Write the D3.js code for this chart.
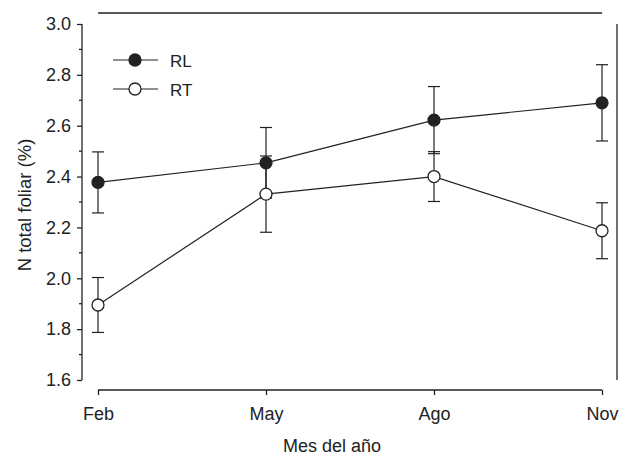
<!DOCTYPE html>
<html>
<head>
<meta charset="utf-8">
<script src="https://cdn.jsdelivr.net/npm/d3@7"></script>
<style>
  body { margin: 0; background: #fff; }
  text { font-family: "Liberation Sans", Arial, sans-serif; fill: #222; }
</style>
</head>
<body>
<div id="chart"></div>
<script>
var months = ["Feb", "May", "Ago", "Nov"];
var rlMean = [2.377, 2.454, 2.622, 2.69];
var rlErr  = [0.12, 0.139, 0.132, 0.15];
var rtMean = [1.895, 2.331, 2.40, 2.187];
var rtErr  = [0.108, 0.15, 0.098, 0.11];
var yTicks = [1.6, 1.8, 2.0, 2.2, 2.4, 2.6, 2.8, 3.0];

var W = 626, H = 456;
var svg = d3.select("#chart").append("svg")
  .attr("width", W).attr("height", H);

var x = d3.scalePoint().domain(months).range([98, 602]);
var y = d3.scaleLinear().domain([1.6, 3.0]).range([380, 24]);

var ink = "#222";

// left axis (offset), major + minor ticks
var yAxis = d3.axisLeft(y).tickValues(yTicks).tickFormat(d3.format(".1f"))
  .tickSize(5).tickPadding(6);
var gy = svg.append("g").attr("transform", "translate(82,0)").call(yAxis);
gy.select(".domain").attr("stroke", ink).attr("stroke-width", 1.3).attr("d", "M0," + y(1.6) + "V" + y(3.0));
gy.selectAll(".tick line").attr("stroke", ink).attr("stroke-width", 1.3);
gy.selectAll(".tick text").style("font-size", "18px").attr("fill", ink);
var minor = d3.range(1.7, 3.0, 0.2);
gy.selectAll(".minor").data(minor).enter().append("line")
  .attr("x1", -3).attr("x2", 0)
  .attr("y1", function(d) { return y(d); }).attr("y2", function(d) { return y(d); })
  .attr("stroke", ink).attr("stroke-width", 1.3);

// bottom axis (offset)
var xAxis = d3.axisBottom(x).tickSize(5).tickPadding(12);
var gx = svg.append("g").attr("transform", "translate(0,390)").call(xAxis);
gx.select(".domain").attr("stroke", ink).attr("stroke-width", 1.3).attr("d", "M98,0H602");
gx.selectAll(".tick line").attr("stroke", ink).attr("stroke-width", 1.3);
gx.selectAll(".tick text").style("font-size", "18px").attr("fill", ink);

// top and right frame lines
svg.append("line").attr("x1", 98).attr("x2", 602).attr("y1", 13).attr("y2", 13)
  .attr("stroke", ink).attr("stroke-width", 1.3);
svg.append("line").attr("x1", 617).attr("x2", 617).attr("y1", y(3.0)).attr("y2", y(1.6))
  .attr("stroke", ink).attr("stroke-width", 1.3);

// axis titles
svg.append("text").attr("x", 332).attr("y", 451.5).attr("text-anchor", "middle")
  .style("font-size", "18px").text("Mes del año");
svg.append("text").attr("transform", "translate(31,205) rotate(-90)").attr("text-anchor", "middle")
  .style("font-size", "18.5px").text("N total foliar (%)");

var series = [
  { name: "RL", mean: rlMean, err: rlErr, fill: ink },
  { name: "RT", mean: rtMean, err: rtErr, fill: "#fff" }
];

var line = d3.line().x(function(d) { return x(d.m); }).y(function(d) { return y(d.v); });

series.forEach(function(s) {
  var pts = months.map(function(m, i) { return { m: m, v: s.mean[i], e: s.err[i] }; });
  var g = svg.append("g");
  g.append("path").datum(pts).attr("d", line).attr("fill", "none")
    .attr("stroke", ink).attr("stroke-width", 1.2);
  var eb = g.selectAll(".eb").data(pts).enter().append("g");
  eb.append("line")
    .attr("x1", function(d) { return x(d.m); }).attr("x2", function(d) { return x(d.m); })
    .attr("y1", function(d) { return y(d.v - d.e); }).attr("y2", function(d) { return y(d.v + d.e); })
    .attr("stroke", ink).attr("stroke-width", 1.2);
  [-1, 1].forEach(function(sign) {
    eb.append("line")
      .attr("x1", function(d) { return x(d.m) - 6; }).attr("x2", function(d) { return x(d.m) + 6; })
      .attr("y1", function(d) { return y(d.v + sign * d.e); }).attr("y2", function(d) { return y(d.v + sign * d.e); })
      .attr("stroke", ink).attr("stroke-width", 1.2);
  });
});

// markers drawn after all lines
series.forEach(function(s) {
  svg.append("g").selectAll("circle").data(s.mean).enter().append("circle")
    .attr("cx", function(d, i) { return x(months[i]); })
    .attr("cy", function(d) { return y(d); })
    .attr("r", 6).attr("fill", s.fill).attr("stroke", ink).attr("stroke-width", 1.3);
});

// legend
series.forEach(function(s, i) {
  var ly = 60 + i * 29;
  svg.append("line").attr("x1", 113).attr("x2", 158).attr("y1", ly).attr("y2", ly)
    .attr("stroke", ink).attr("stroke-width", 1.2);
  svg.append("circle").attr("cx", 135).attr("cy", ly).attr("r", 6)
    .attr("fill", s.fill).attr("stroke", ink).attr("stroke-width", 1.3);
  svg.append("text").attr("x", 170).attr("y", ly + 6.5).style("font-size", "17px").text(s.name);
});
</script>
</body>
</html>
